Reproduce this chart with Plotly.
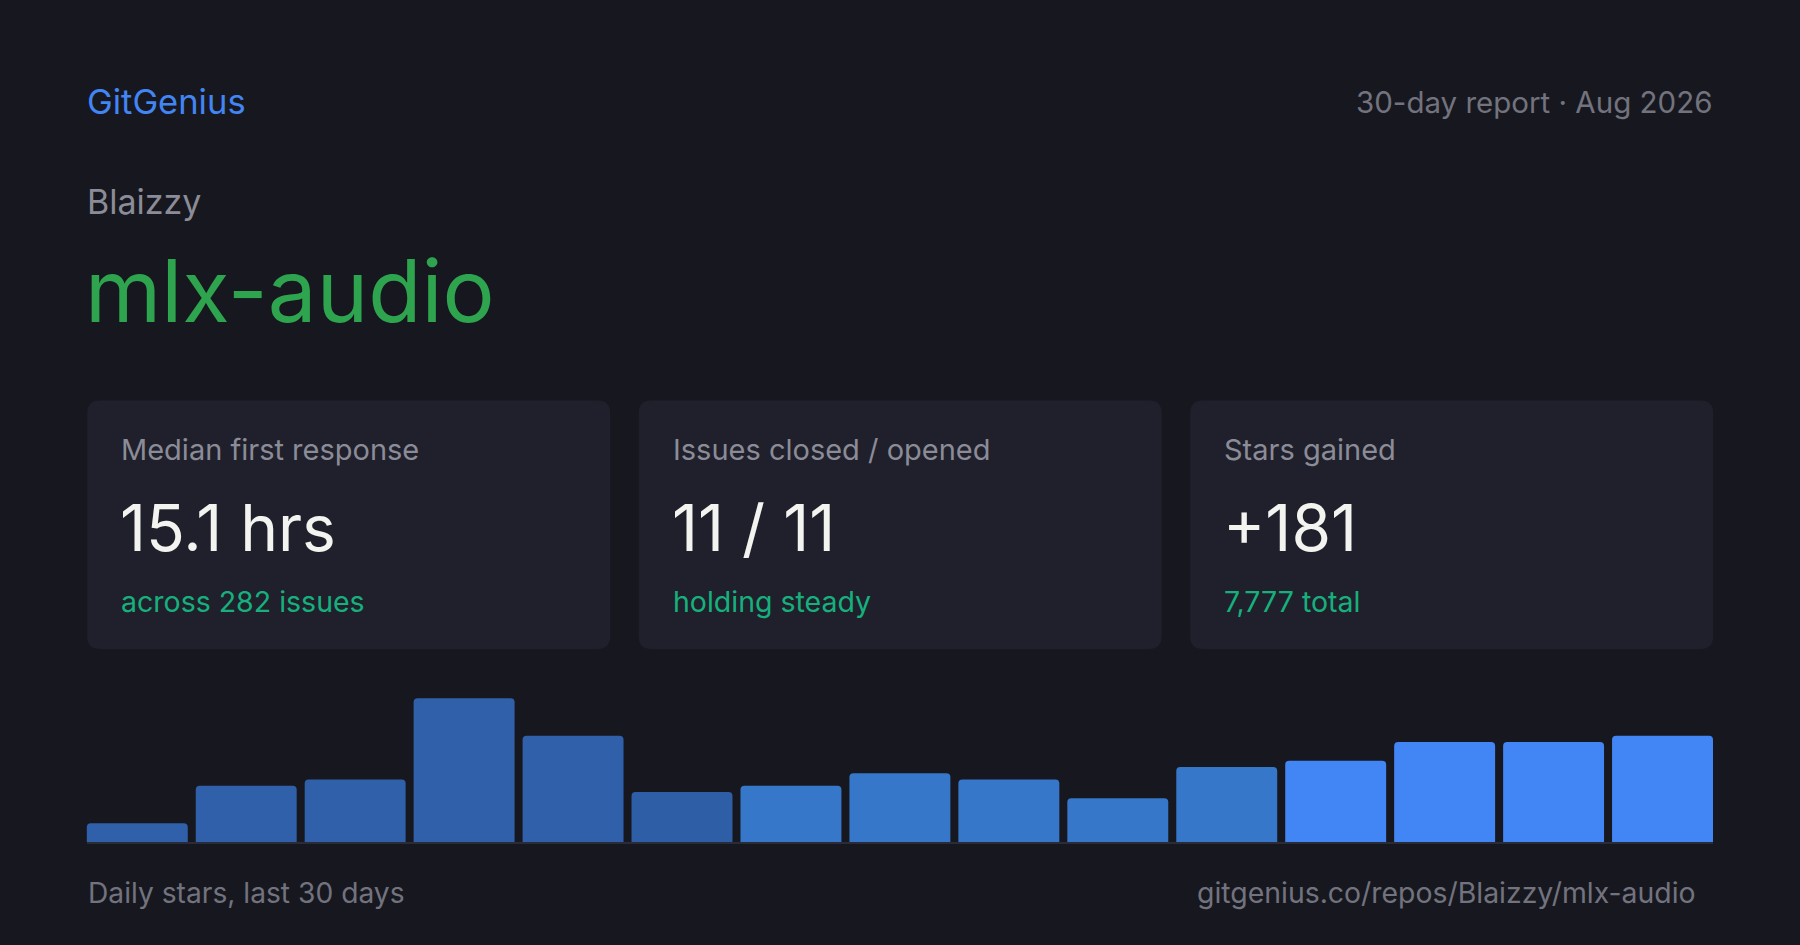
import plotly.graph_objects as go

W, H = 1800, 945

# daily stars, grouped in 2-day buckets over the last 30 days
buckets = list(range(1, 16))
stars = [3, 9, 10, 23, 17, 8, 9, 11, 10, 7, 12, 13, 16, 16, 17]

card_labels = ["Median first response", "Issues closed / opened", "Stars gained"]
card_values = ["15.1 hrs", "11 / 11", "+181"]
card_notes = ["across 282 issues", "holding steady", "7,777 total"]

brand = "GitGenius"
report = "30-day report · Aug 2026"
owner = "Blaizzy"
repo = "mlx-audio"
chart_caption = "Daily stars, last 30 days"
repo_url = "gitgenius.co/repos/Blaizzy/mlx-audio"

# colours
BG = "#17181f"
CARD = "#1f202b"
GRAY = "#8b8c97"
DIM = "#72737e"
WHITE = "#f3f3ef"
TEAL = "#17b07d"
bar_colors = ["#2f60a9"] * 5 + ["#2e5ea6"] + ["#3677c9"] * 5 + ["#4285f4"] * 4


def px(x):
    return x / W


def py(y):
    return 1 - y / H


def rounded_rect(x0, y0, x1, y1, r):
    # path in paper units, corners given in pixels
    pts = [
        ("M", [(x0 + r, y0)]),
        ("L", [(x1 - r, y0)]),
        ("Q", [(x1, y0), (x1, y0 + r)]),
        ("L", [(x1, y1 - r)]),
        ("Q", [(x1, y1), (x1 - r, y1)]),
        ("L", [(x0 + r, y1)]),
        ("Q", [(x0, y1), (x0, y1 - r)]),
        ("L", [(x0, y0 + r)]),
        ("Q", [(x0, y0), (x0 + r, y0)]),
    ]
    parts = []
    for cmd, coords in pts:
        parts.append(cmd + " " + " ".join(f"{px(a):.5f},{py(b):.5f}" for a, b in coords))
    return " ".join(parts) + " Z"


fig = go.Figure()

fig.add_trace(go.Bar(
    x=buckets,
    y=stars,
    marker=dict(color=bar_colors, cornerradius=4, line=dict(width=0)),
    hoverinfo="skip",
))


def text(x, base, s, size, color, anchor="left"):
    # place text by its baseline (pixels from top)
    fig.add_annotation(
        x=px(x), y=py(base - 0.364 * size), xref="paper", yref="paper",
        text=s, showarrow=False, xanchor=anchor, yanchor="middle", borderpad=0,
        font=dict(family="Inter", size=size, color=color),
    )


# header
text(86, 114, brand, 34.5, "#4285f4")
text(1713, 113, report, 29.5, DIM, anchor="right")
text(86, 214, owner, 34, GRAY)
text(84, 322, repo, 87, "#2ea44f")

# stat cards
card_w, gap = 523.0, 28.5
shapes = []
for i in range(3):
    x0 = 87.2 + i * (card_w + gap)
    shapes.append(dict(type="path", xref="paper", yref="paper", layer="below",
                       path=rounded_rect(x0, 400.5, x0 + card_w, 649, 13),
                       fillcolor=CARD, line=dict(width=0)))
    text(x0 + 33, 460.5, card_labels[i], 29, GRAY)
    text(x0 + 32, 551, card_values[i], 64, WHITE)
    text(x0 + 33, 611.5, card_notes[i], 28.5, TEAL)

# chart baseline
shapes.append(dict(type="line", xref="paper", yref="paper", layer="below",
                   x0=px(87), x1=px(1713), y0=py(843), y1=py(843),
                   line=dict(color="#292b37", width=2)))

# footer
text(87, 903, chart_caption, 28.2, DIM)
text(1697, 903, repo_url, 28.4, DIM, anchor="right")

pitch = (1713 - 86.8 + 8) / 15
fig.update_layout(
    width=W, height=H,
    margin=dict(l=0, r=0, t=0, b=0),
    paper_bgcolor=BG, plot_bgcolor=BG,
    showlegend=False,
    bargap=8 / pitch,
    shapes=shapes,
    xaxis=dict(domain=[px(86.8 - 4), px(86.8 - 4 + 15 * pitch)], range=[0.5, 15.5],
               visible=False, fixedrange=True),
    yaxis=dict(domain=[py(842), py(842 - 150)], range=[0, 24],
               visible=False, fixedrange=True),
    font=dict(family="Inter"),
)

fig.write_html("out.html", config={"displayModeBar": False},
               post_script="document.body.style.margin='0';document.body.style.background='#17181f';")
